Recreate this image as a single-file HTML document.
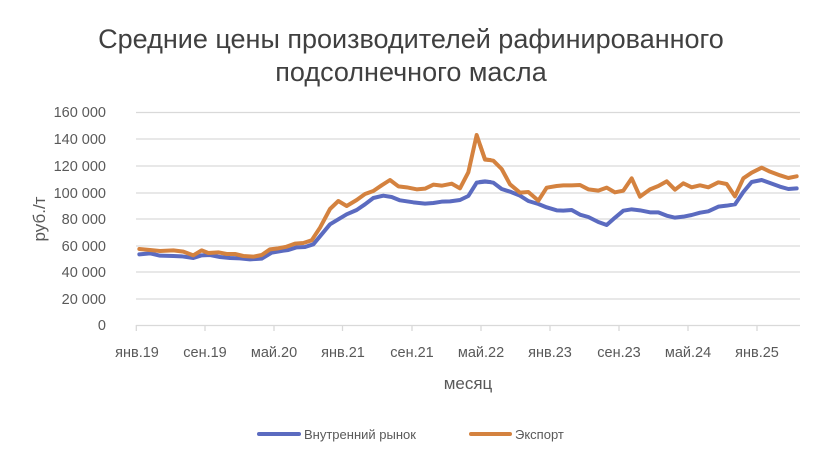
<!DOCTYPE html>
<html><head><meta charset="utf-8"><style>
body{margin:0;background:#fff;}
svg{display:block;font-family:"Liberation Sans",sans-serif;}
</style></head><body>
<svg width="823" height="464" viewBox="0 0 823 464">
<text x="411" y="48" font-size="27" fill="#404040" text-anchor="middle">Средние цены производителей рафинированного</text>
<text x="411" y="81" font-size="27" fill="#404040" text-anchor="middle">подсолнечного масла</text>
<g stroke="#d9d9d9" stroke-width="1.3">
<line x1="136" x2="800" y1="112.5" y2="112.5"/><line x1="136" x2="800" y1="139" y2="139"/><line x1="136" x2="800" y1="166" y2="166"/><line x1="136" x2="800" y1="193" y2="193"/><line x1="136" x2="800" y1="219" y2="219"/><line x1="136" x2="800" y1="246" y2="246"/><line x1="136" x2="800" y1="272" y2="272"/><line x1="136" x2="800" y1="299" y2="299"/><line x1="136" x2="800" y1="325.5" y2="325.5"/>
<line x1="136.3" x2="136.3" y1="325" y2="331"/><line x1="205" x2="205" y1="325" y2="331"/><line x1="274" x2="274" y1="325" y2="331"/><line x1="342.5" x2="342.5" y1="325" y2="331"/><line x1="412" x2="412" y1="325" y2="331"/><line x1="481" x2="481" y1="325" y2="331"/><line x1="550" x2="550" y1="325" y2="331"/><line x1="619" x2="619" y1="325" y2="331"/><line x1="688" x2="688" y1="325" y2="331"/><line x1="757" x2="757" y1="325" y2="331"/>
</g>
<g font-size="14.5" fill="#595959" text-anchor="end">
<text x="106" y="117">160 000</text><text x="106" y="144">140 000</text><text x="106" y="171">120 000</text><text x="106" y="198">100 000</text><text x="106" y="224">80 000</text><text x="106" y="251">60 000</text><text x="106" y="277">40 000</text><text x="106" y="304">20 000</text><text x="106" y="330">0</text>
</g>
<g font-size="14.5" fill="#595959" text-anchor="middle">
<text x="137" y="357">янв.19</text><text x="205" y="357">сен.19</text><text x="274" y="357">май.20</text><text x="343" y="357">янв.21</text><text x="412" y="357">сен.21</text><text x="481" y="357">май.22</text><text x="550" y="357">янв.23</text><text x="619" y="357">сен.23</text><text x="688" y="357">май.24</text><text x="757" y="357">янв.25</text>
<text x="468" y="389" font-size="17">месяц</text>
<text transform="translate(45,219) rotate(-90)" font-size="17">руб./т</text>
</g>
<g fill="none" stroke-width="4" stroke-linejoin="round" stroke-linecap="round">
<g transform="translate(130,120) scale(0.33333)">
<polyline vector-effect="non-scaling-stroke" stroke="#5b6bc0" points="28,403 60,400 90,407 130,408 155,409 190,414 215,406 240,405 270,411 300,414 330,415 360,418 395,416 425,398 460,392 475,390 500,382 525,381 550,373 575,343 600,313 625,298 650,283 680,270 705,253 730,234 760,227 785,231 810,241 850,247 885,251 910,249 935,245 960,244 990,240 1015,228 1040,188 1065,185 1080,186"/>
<polyline vector-effect="non-scaling-stroke" stroke="#d4823f" points="28,387 60,390 90,393 130,391 160,395 190,406 215,391 235,399 265,397 290,402 315,402 340,408 370,410 395,405 420,388 445,385 470,380 495,371 520,369 545,361 570,323 600,267 625,243 650,258 680,240 705,222 730,213 755,196 780,180 805,199 830,202 860,208 885,206 910,194 935,197 965,191 990,205 1015,157 1040,45 1065,119 1080,120"/>
</g>
<g transform="translate(470,120) scale(0.33333)">
<polyline vector-effect="non-scaling-stroke" stroke="#5b6bc0" points="30,186 45,184 70,188 95,207 120,215 150,227 175,243 205,252 230,262 260,271 280,272 305,270 330,284 355,291 385,306 410,315 435,293 460,272 485,268 510,271 540,277 565,277 590,287 615,293 640,290 665,285 690,278 715,274 745,260 770,257 795,253 820,216 845,186 875,180 900,189 930,200 955,207 980,205"/>
<polyline vector-effect="non-scaling-stroke" stroke="#d4823f" points="30,75 45,118 70,122 95,147 120,193 150,218 175,216 205,242 230,203 260,198 280,196 305,196 330,195 355,208 385,212 410,203 435,217 460,212 485,175 510,230 540,208 565,198 590,184 615,209 640,190 665,202 690,196 715,202 745,187 770,192 795,229 820,175 845,158 875,143 900,155 930,166 955,174 980,169"/>
</g>
</g>
<line x1="259" x2="299" y1="434" y2="434" stroke="#5b6bc0" stroke-width="4" stroke-linecap="round"/>
<text x="304" y="439" font-size="13" fill="#595959">Внутренний рынок</text>
<line x1="471" x2="510" y1="434" y2="434" stroke="#d4823f" stroke-width="4" stroke-linecap="round"/>
<text x="515" y="439" font-size="13" fill="#595959">Экспорт</text>
</svg>
</body></html>
